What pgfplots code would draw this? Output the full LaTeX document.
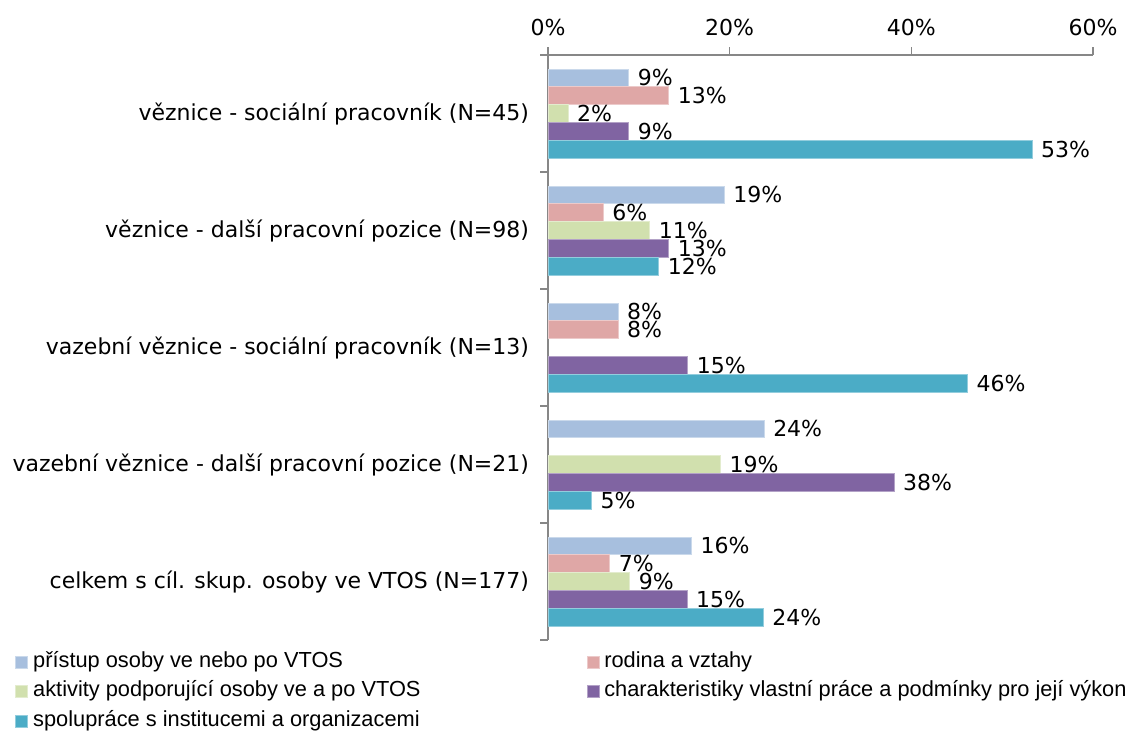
\documentclass[border=0pt]{standalone}
\usepackage{fontspec}
\setmainfont{DejaVu Sans}
\newfontfamily\legfont{Liberation Sans}
\usepackage{pgfplots}
\pgfplotsset{compat=1.18}
\definecolor{cA}{HTML}{A7BFDE}
\definecolor{cB}{HTML}{DFA7A6}
\definecolor{cC}{HTML}{D1E0AE}
\definecolor{cD}{HTML}{8064A2}
\definecolor{cE}{HTML}{4BACC6}
\definecolor{axgray}{HTML}{878787}
\begin{document}
\begin{tikzpicture}
\path[use as bounding box] (0,0) rectangle (567.5pt,366pt);
\begin{axis}[
  at={(274pt,46pt)}, anchor=south west,
  scale only axis, width=272.5pt, height=292.5pt,
  xbar, bar width=0.152,
  xmin=0, xmax=60, ymin=-0.5, ymax=4.5, y dir=reverse,
  axis x line*=top, axis y line*=left,
  axis line style={-, draw=axgray, line width=0.7pt},
  tick style={draw=axgray, line width=0.7pt},
  tick align=outside, major tick length=4pt,
  /pgf/number format/assume math mode=true,
  ticklabel style={font=\fontsize{11}{13}\selectfont, black},
  xtick={0,20,40,60},
  xticklabel={\pgfmathprintnumber{\tick}\%},
  xticklabel shift=2pt,
  ytick={-0.5,0.5,1.5,2.5,3.5,4.5},
  yticklabels={,,,,,},
  extra y ticks={0,1,2,3,4},
  extra y tick labels={věznice - sociální pracovník (N=45),věznice - další pracovní pozice (N=98),vazební věznice - sociální pracovník (N=13),vazební věznice - další pracovní pozice (N=21),celkem s cíl. skup. osoby ve VTOS (N=177)},
  extra y tick style={major tick length=0pt, yticklabel style={xshift=-6pt}},
  point meta=x,
  nodes near coords={\pgfmathprintnumber[fixed,precision=0]{\pgfplotspointmeta}\%},
  nodes near coords style={anchor=west, font=\fontsize{11}{13}\selectfont, black, xshift=1pt},
  every axis plot/.append style={line width=0.4pt},
  legend columns=2,
  legend cell align=left,
  legend image code/.code={\fill[#1] (0pt,-3pt) rectangle (6pt,3pt);},
  legend style={at={(axis description cs:-0.978,-0.012)}, anchor=north west,
    draw=none, fill=none, inner sep=0pt, row sep=0pt,
    font=\legfont\fontsize{10.9}{12}\selectfont,
    nodes={inner sep=2.5pt, text height=7.5pt, text depth=2.25pt},
    /tikz/column 2/.style={column sep=80.5pt}},
]
\addplot[fill=cA, draw=cA!60!white, bar shift=-0.304] coordinates {(8.9,0) (19.4,1) (7.7,2) (23.8,3) (15.8,4)};
\addplot[fill=cB, draw=cB!60!white, bar shift=-0.152] coordinates {(13.3,0) (6.1,1) (7.7,2) (6.8,4)};
\addplot[fill=cC, draw=cC!60!white, bar shift=0] coordinates {(2.2,0) (11.2,1) (19.0,3) (9.0,4)};
\addplot[fill=cD, draw=cD!60!white, bar shift=0.152] coordinates {(8.9,0) (13.3,1) (15.4,2) (38.1,3) (15.3,4)};
\addplot[fill=cE, draw=cE!60!white, bar shift=0.304] coordinates {(53.3,0) (12.2,1) (46.2,2) (4.8,3) (23.7,4)};
\legend{přístup osoby ve nebo po VTOS, rodina a vztahy, aktivity podporující osoby ve a po VTOS, charakteristiky vlastní práce a podmínky pro její výkon, spolupráce s institucemi a organizacemi}
\end{axis}
\end{tikzpicture}
\end{document}
